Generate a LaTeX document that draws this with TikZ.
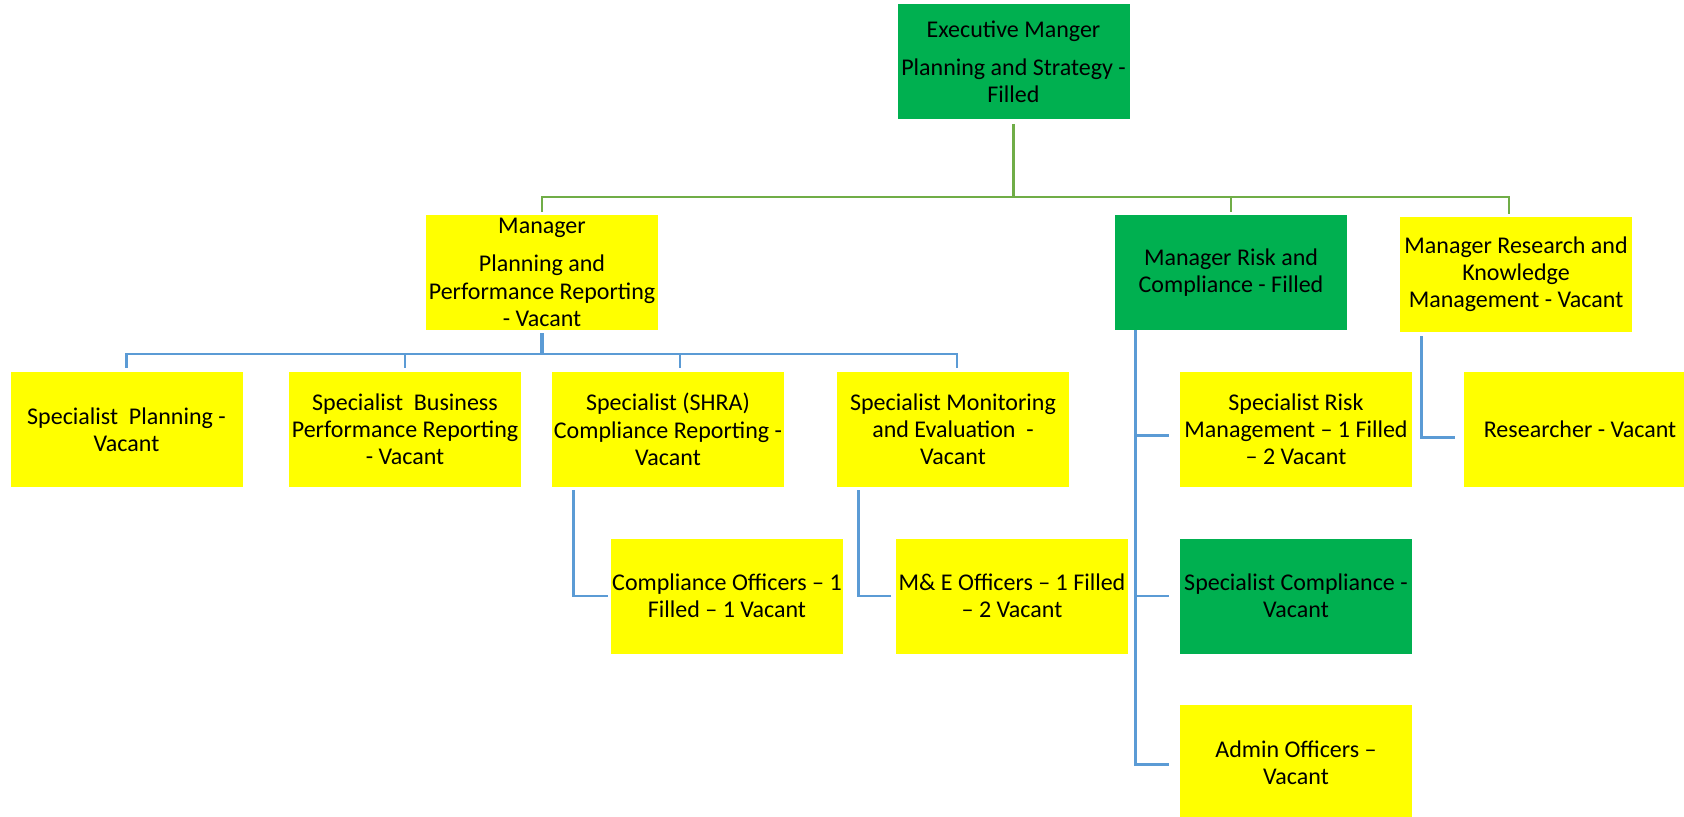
\documentclass[tikz,border=0pt]{standalone}
\usepackage{fontspec}
\setmainfont{Carlito}
\definecolor{boxgreen}{HTML}{00B050}
\definecolor{boxyellow}{HTML}{FFFF00}
\definecolor{linegreen}{HTML}{70AD47}
\definecolor{lineblue}{HTML}{5B9BD5}
\begin{document}
\begin{tikzpicture}[x=0.5pt,y=-0.5pt,
  post/.style={minimum width=116pt, minimum height=57.5pt, inner sep=0pt,
    align=center, font=\fontsize{12}{13.6}\selectfont},
  filledbox/.style={post, fill=boxgreen},
  vacantbox/.style={post, fill=boxyellow},
  topline/.style={draw=linegreen, line width=1.2pt},
  subline/.style={draw=lineblue, line width=1.2pt}]
\useasboundingbox (0,0) rectangle (1684,817);

% executive level
\node[filledbox] (exec) at (1013.5,62) {Executive Manger\\[5.4pt] Planning and Strategy -\\ Filled};

% managers
\node[vacantbox] (ppr)  at (542,272.5)  {Manager\\[5.4pt] Planning and\\ Performance Reporting\\ - Vacant};
\node[filledbox] (rmgr) at (1231,272.5) {Manager Risk and\\ Compliance - Filled};
\node[vacantbox] (rres) at (1516,274.5) {Manager Research and\\ Knowledge\\ Management - Vacant};

% specialists under planning and performance reporting
\node[vacantbox] (sp1) at (126.5,429.5) {Specialist\ \ Planning -\\ Vacant};
\node[vacantbox] (sp2) at (405,429.5)   {Specialist\ \ Business\\ Performance Reporting\\ - Vacant};
\node[vacantbox] (sp3) at (668,429.5)   {Specialist (SHRA)\\ Compliance Reporting -\\ Vacant};
\node[vacantbox] (sp4) at (953,429.5)   {Specialist Monitoring\\ and Evaluation\ \ -\\ Vacant};

% officers
\node[vacantbox] (co) at (727,596)  {Compliance Officers – 1\\ Filled – 1 Vacant};
\node[vacantbox] (me) at (1012,596) {M\& E Officers – 1 Filled\\ – 2 Vacant};

% risk and compliance unit
\node[vacantbox] (sr)  at (1296,429.5) {Specialist Risk\\ Management – 1 Filled\\ – 2 Vacant};
\node[filledbox] (sc)  at (1296,596)   {Specialist Compliance -\\ Vacant};
\node[vacantbox] (adm) at (1296,762.5) {Admin Officers –\\ Vacant};

% research unit
\node[vacantbox] (rsr) at (1580,429.5) {Researcher - Vacant};

% green tree from the executive
\coordinate (bus) at (1013.5,197);
\draw[topline] ([yshift=-2pt]exec.south) -- (bus);
\draw[topline] ([yshift=1.5pt]ppr.north) |- (bus) -| ([xshift=-3.5pt,yshift=1.5pt]rres.north);
\draw[topline] (bus) -| ([yshift=1.5pt]rmgr.north);

% blue tree under planning and performance reporting
\coordinate (pbus) at (542,354);
\draw[subline, line width=1.8pt] ([yshift=-1.5pt]ppr.south) -- (pbus);
\draw[subline] ([yshift=2pt]sp1.north) |- (pbus) -| ([xshift=2pt,yshift=2pt]sp4.north);
\draw[subline] (pbus) -| ([yshift=2pt]sp2.north);
\draw[subline] (pbus) -| ([xshift=6pt,yshift=2pt]sp3.north);

% officers hanging off the specialists
\draw[subline] ([xshift=11pt,yshift=-1.5pt]sp3.south west) |- ([xshift=-1.5pt]co.west);
\draw[subline] ([xshift=11pt,yshift=-1.5pt]sp4.south west) |- ([xshift=-2.5pt]me.west);

% risk and compliance spine
\draw[subline] ([xshift=10.5pt,yshift=-2pt]rmgr.south west) |- ([xshift=-5.5pt,yshift=-1pt]adm.west);
\draw[subline] ([xshift=10.5pt]rmgr.south west) |- ([xshift=-5.5pt,yshift=-3pt]sr.west);
\draw[subline] ([xshift=10.5pt]rmgr.south west) |- ([xshift=-5.5pt]sc.west);

% research spine
\draw[subline] ([xshift=11pt,yshift=-2pt]rres.south west) |- ([xshift=-4.5pt,yshift=-4pt]rsr.west);
\end{tikzpicture}
\end{document}
